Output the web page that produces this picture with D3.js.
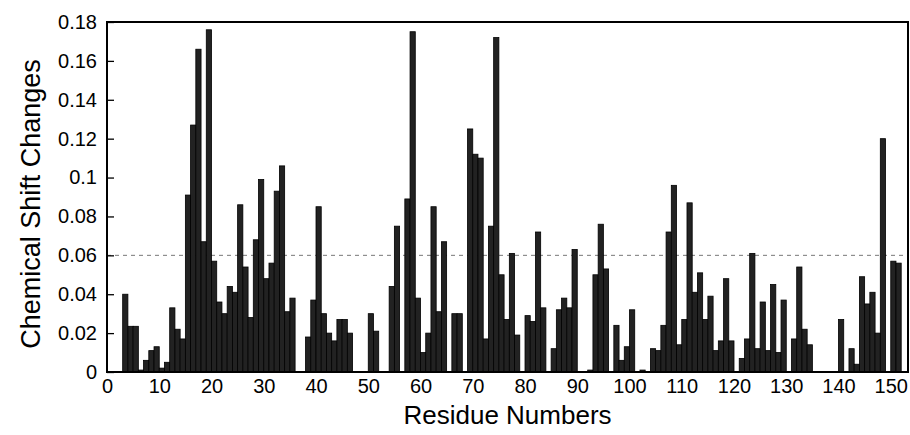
<!DOCTYPE html>
<html>
<head>
<meta charset="utf-8">
<script src="https://cdn.jsdelivr.net/npm/d3@7"></script>
<style>
  body { margin: 0; background: #fff; }
  svg { display: block; }
  text { font-family: "Liberation Sans", Arial, Helvetica, sans-serif; fill: #000; }
</style>
</head>
<body>
<div id="chart"></div>
<script>
// chemical shift change per residue, residue 1 .. 151
var firstResidue = 1;
var shifts = [
  0, 0, 0.040, 0.0235, 0.0235, 0.001, 0.006, 0.011, 0.013, 0.002,
  0.005, 0.033, 0.022, 0.017, 0.091, 0.127, 0.166, 0.067, 0.176, 0.057,
  0.036, 0.030, 0.044, 0.041, 0.086, 0.054, 0.028, 0.068, 0.099, 0.048,
  0.056, 0.093, 0.106, 0.031, 0.038, 0, 0, 0.018, 0.037, 0.085,
  0.030, 0.020, 0.016, 0.027, 0.027, 0.020, 0, 0, 0, 0.030,
  0.021, 0, 0, 0.044, 0.075, 0, 0.089, 0.175, 0.038, 0.010,
  0.020, 0.085, 0.031, 0.067, 0, 0.030, 0.030, 0, 0.125, 0.112,
  0.110, 0.017, 0.075, 0.172, 0.050, 0.027, 0.061, 0.019, 0, 0.029,
  0.026, 0.072, 0.033, 0, 0.012, 0.032, 0.038, 0.033, 0.063, 0,
  0, 0.001, 0.050, 0.076, 0.053, 0, 0.024, 0.006, 0.013, 0.032,
  0, 0.001, 0, 0.012, 0.011, 0.024, 0.072, 0.096, 0.014, 0.027,
  0.087, 0.041, 0.051, 0.027, 0.039, 0.011, 0.016, 0.048, 0.016, 0,
  0.007, 0.017, 0.061, 0.012, 0.036, 0.011, 0.045, 0.010, 0.037, 0,
  0.017, 0.054, 0.022, 0.014, 0, 0, 0, 0, 0, 0.027,
  0, 0.012, 0.004, 0.049, 0.035, 0.041, 0.020, 0.120, 0, 0.057,
  0.056
];
var xTicks = [0, 10, 20, 30, 40, 50, 60, 70, 80, 90, 100, 110, 120, 130, 140, 150];
var yTicks = [0, 0.02, 0.04, 0.06, 0.08, 0.1, 0.12, 0.14, 0.16, 0.18];
var cutoff = 0.06;

var data = shifts.map(function(v, i) { return {res: firstResidue + i, shift: v}; });

var svg = d3.select("#chart")
    .append("svg")
    .attr("width", 910)
    .attr("height", 435);

var margin = {top: 22, right: 2, bottom: 63, left: 107},
    width = +svg.attr("width") - margin.left - margin.right,
    height = +svg.attr("height") - margin.top - margin.bottom;

var x = d3.scaleLinear().domain([0, 153.3]).range([0, width]),
    y = d3.scaleLinear().domain([0, 0.18]).range([height, 0]);

var g = svg.append("g")
    .attr("transform", "translate(" + margin.left + "," + margin.top + ")");

// cutoff line
g.append("line")
    .attr("x1", 0).attr("x2", width)
    .attr("y1", y(cutoff)).attr("y2", y(cutoff))
    .attr("stroke", "#777")
    .attr("stroke-width", 1)
    .attr("stroke-dasharray", "4,4");

// each bar fills the step from res to res + 1
g.selectAll(".bar")
  .data(data)
  .enter().append("rect")
    .attr("class", "bar")
    .attr("x", function(d) { return x(d.res); })
    .attr("y", function(d) { return y(d.shift); })
    .attr("width", function(d) { return x(d.res + 1) - x(d.res); })
    .attr("height", function(d) { return height - y(d.shift); })
    .attr("fill", "#222")
    .attr("stroke", "#000")
    .attr("stroke-width", 0.8);

// y axis, ticks pointing inward
var yAxis = g.append("g")
    .attr("class", "axis axis--y")
    .call(d3.axisRight(y).tickValues(yTicks).tickSize(7).tickFormat(d3.format("")));
yAxis.select(".domain").remove();
yAxis.selectAll(".tick line").attr("stroke", "#000").attr("stroke-width", 1.3);
yAxis.selectAll(".tick text")
    .attr("x", -10)
    .attr("text-anchor", "end")
    .attr("font-size", 20);

// x axis labels
var xAxis = g.append("g")
    .attr("class", "axis axis--x")
    .attr("transform", "translate(0," + height + ")")
    .call(d3.axisBottom(x).tickValues(xTicks).tickSize(0).tickPadding(7));
xAxis.select(".domain").remove();
xAxis.selectAll(".tick text").attr("font-size", 20);

// frame
g.append("rect")
    .attr("x", 0).attr("y", 0)
    .attr("width", width).attr("height", height)
    .attr("fill", "none")
    .attr("stroke", "#000")
    .attr("stroke-width", 2);

svg.append("text")
    .attr("x", margin.left + width / 2)
    .attr("y", 424)
    .attr("text-anchor", "middle")
    .attr("font-size", 26)
    .text("Residue Numbers");

svg.append("text")
    .attr("transform", "translate(40,204) rotate(-90)")
    .attr("text-anchor", "middle")
    .attr("font-size", 27)
    .text("Chemical Shift Changes");
</script>
</body>
</html>
